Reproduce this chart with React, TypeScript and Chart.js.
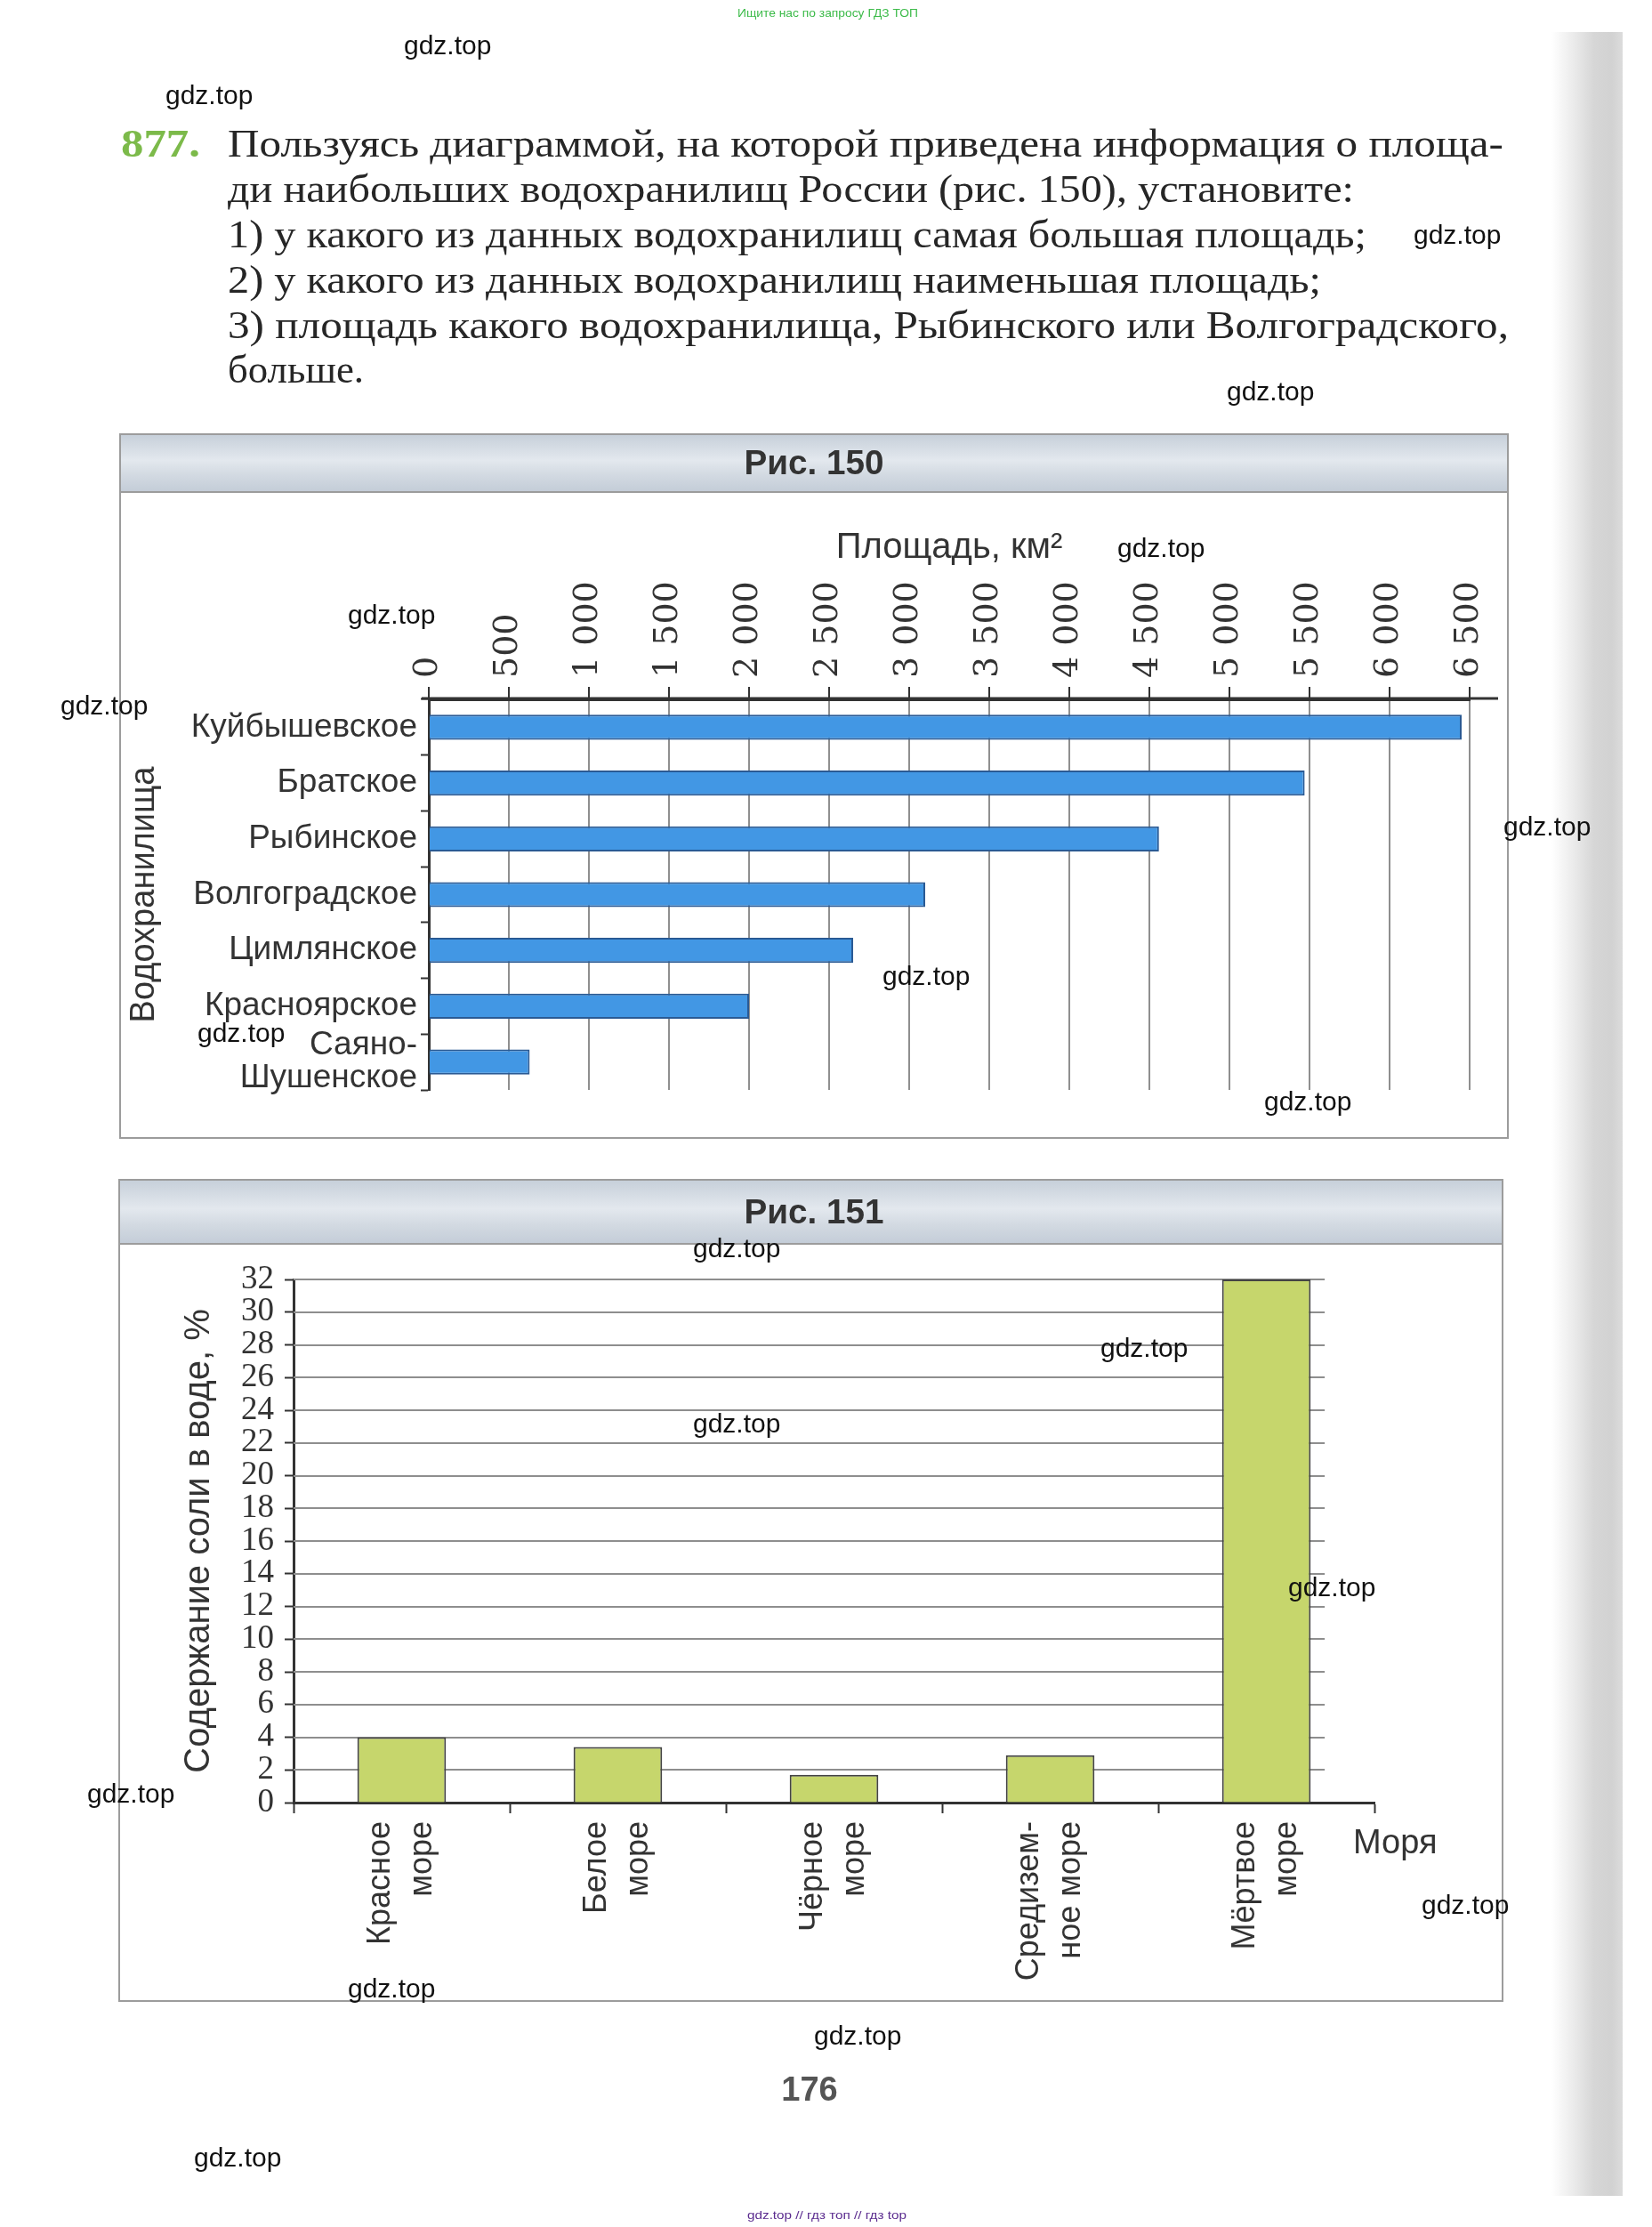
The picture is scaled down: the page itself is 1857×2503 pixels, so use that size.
import React, { useEffect, useRef } from "react";
import { Chart, registerables } from "chart.js";

Chart.register(...registerables);

// ---------- Data: Рис. 150 ----------
const reservoirs: (string | string[])[] = [
  "Куйбышевское",
  "Братское",
  "Рыбинское",
  "Волгоградское",
  "Цимлянское",
  "Красноярское",
  ["Саяно-", "Шушенское"],
];
const reservoirAreas = [6450, 5470, 4560, 3100, 2650, 2000, 630];
const areaTickLabels = [
  "0", "500", "1 000", "1 500", "2 000", "2 500", "3 000",
  "3 500", "4 000", "4 500", "5 000", "5 500", "6 000", "6 500",
];
const areaTitle = "Площадь, км²";
const reservoirTitle = "Водохранилища";

// ---------- Data: Рис. 151 ----------
const seas: string[][] = [
  ["Красное", "море"],
  ["Белое", "море"],
  ["Чёрное", "море"],
  ["Средизем-", "ное море"],
  ["Мёртвое", "море"],
];
const salinity = [4.0, 3.4, 1.7, 2.9, 32];
const salinityTitle = "Содержание соли в воде, %";
const seasTitle = "Моря";

// ---------- Page texts ----------
const problemLines = [
  { text: "Пользуясь диаграммой, на которой приведена информация о площа-", len: 1434, y: 176 },
  { text: "ди наибольших водохранилищ России (рис. 150), установите:", len: 1266, y: 227 },
  { text: "1) у какого из данных водохранилищ самая большая площадь;", len: 1280, y: 278 },
  { text: "2) у какого из данных водохранилищ наименьшая площадь;", len: 1229, y: 329 },
  { text: "3) площадь какого водохранилища, Рыбинского или Волгоградского,", len: 1440, y: 380 },
  { text: "больше.", len: 153, y: 430 },
];
const watermarks: [number, number][] = [
  [454, 53], [186, 109], [1589, 266], [1379, 442], [1256, 618], [391, 693],
  [68, 795], [1690, 931], [992, 1099], [222, 1163], [1421, 1240], [779, 1405],
  [1237, 1517], [779, 1602], [1448, 1786], [98, 2018], [1598, 2143],
  [391, 2237], [915, 2290], [218, 2427],
];

const SANS = "'Liberation Sans', Arial, sans-serif";

// extends the top axis line a little beyond 0 and beyond the last tick, as in the figure
const axisExtendPlugin = {
  id: "axisExtend",
  afterDraw(chart: any) {
    const { ctx, chartArea } = chart;
    ctx.save();
    ctx.strokeStyle = "#333";
    ctx.lineWidth = 3;
    ctx.beginPath();
    ctx.moveTo(chartArea.left - 8, chartArea.top - 1);
    ctx.lineTo(chartArea.right + 32, chartArea.top - 1);
    ctx.stroke();
    ctx.restore();
  },
};

function ReservoirChart() {
  const ref = useRef<HTMLCanvasElement | null>(null);
  useEffect(() => {
    if (!ref.current) return;
    const chart = new Chart(ref.current, {
      type: "bar",
      data: {
        labels: reservoirs as any,
        datasets: [
          {
            data: reservoirAreas,
            backgroundColor: "#4297e4",
            borderColor: "#2a5a94",
            borderWidth: 2,
            barPercentage: 0.45,
            categoryPercentage: 1,
          },
        ],
      },
      plugins: [axisExtendPlugin],
      options: {
        indexAxis: "y",
        animation: false,
        responsive: false,
        maintainAspectRatio: false,
        layout: { padding: { left: 0, right: 44, top: 0, bottom: 55 } },
        plugins: { legend: { display: false }, tooltip: { enabled: false } },
        scales: {
          x: {
            type: "linear",
            position: "top",
            min: 0,
            max: 6500,
            ticks: {
              stepSize: 500,
              autoSkip: false,
              minRotation: 90,
              maxRotation: 90,
              padding: 10,
              labelOffset: 45,
              color: "#333",
              font: { family: "'DejaVu Serif', serif", size: 38 },
              callback: (v: any) => areaTickLabels[Math.round(Number(v) / 500)] ?? "",
            },
            grid: { color: "#8f8f8f", lineWidth: 2, tickLength: 14, tickColor: "#333", tickWidth: 2 },
            border: { display: true, color: "#333", width: 3 },
            title: {
              display: true,
              text: areaTitle,
              color: "#333",
              font: { family: SANS, size: 40 },
              padding: { top: 40, bottom: 0 },
            },
            afterFit: (s: any) => {
              s.height = 234;
            },
          } as any,
          y: {
            type: "category",
            ticks: {
              autoSkip: false,
              color: "#333",
              padding: 4,
              font: { family: SANS, size: 37, lineHeight: 1.0 },
            },
            grid: { drawOnChartArea: false, tickLength: 9, tickColor: "#333", tickWidth: 2, offset: true },
            border: { display: true, color: "#333", width: 3 },
            title: {
              display: true,
              text: reservoirTitle,
              color: "#333",
              font: { family: SANS, size: 38 },
              padding: { top: 6, bottom: 0 },
            },
            afterFit: (s: any) => {
              s.width = 348;
            },
          } as any,
        },
      },
    });
    return () => chart.destroy();
  }, []);
  return (
    <canvas
      ref={ref}
      width={1562}
      height={728}
      style={{ position: "absolute", left: 134, top: 552, width: 1562, height: 728 }}
    />
  );
}

const seaPlugin = {
  id: "seaGridAndTitle",
  beforeDatasetsDraw(chart: any) {
    const { ctx, chartArea, scales } = chart;
    const x = scales.x;
    const y = scales.y;
    const last = seas.length - 1;
    const cat = x.getPixelForValue(1) - x.getPixelForValue(0);
    const right = x.getPixelForValue(last) + cat * 0.27;
    ctx.save();
    ctx.strokeStyle = "#8e8e8e";
    ctx.lineWidth = 2;
    y.ticks.forEach((t: any) => {
      if (t.value === 0) return;
      const py = Math.round(y.getPixelForValue(t.value));
      ctx.beginPath();
      ctx.moveTo(chartArea.left, py);
      ctx.lineTo(right, py);
      ctx.stroke();
    });
    ctx.restore();
  },
  afterDraw(chart: any) {
    const { ctx, chartArea } = chart;
    ctx.save();
    ctx.fillStyle = "#333";
    ctx.font = `38px ${SANS}`;
    ctx.textAlign = "left";
    ctx.textBaseline = "middle";
    ctx.fillText(seasTitle, chartArea.right - 24, chartArea.bottom + 47);
    ctx.restore();
  },
};

function SeaChart() {
  const ref = useRef<HTMLCanvasElement | null>(null);
  useEffect(() => {
    if (!ref.current) return;
    const chart = new Chart(ref.current, {
      type: "bar",
      data: {
        labels: seas as any,
        datasets: [
          {
            data: salinity,
            backgroundColor: "#c6d66c",
            borderColor: "#444",
            borderWidth: 2,
            barPercentage: 0.41,
            categoryPercentage: 1,
          },
        ],
      },
      plugins: [seaPlugin],
      options: {
        animation: false,
        responsive: false,
        maintainAspectRatio: false,
        layout: { padding: { left: 0, right: 145, top: 41, bottom: 0 } },
        plugins: { legend: { display: false }, tooltip: { enabled: false } },
        scales: {
          x: {
            type: "category",
            ticks: {
              autoSkip: false,
              minRotation: 90,
              maxRotation: 90,
              padding: 9,
              labelOffset: -23,
              color: "#333",
              font: { family: SANS, size: 36, lineHeight: 1.28 },
            },
            grid: { drawOnChartArea: false, tickLength: 12, tickColor: "#333", tickWidth: 2, offset: true },
            border: { display: true, color: "#333", width: 3 },
            afterFit: (s: any) => {
              s.height = 224;
            },
          } as any,
          y: {
            type: "linear",
            min: 0,
            max: 32,
            ticks: {
              stepSize: 2,
              autoSkip: false,
              padding: 12,
              color: "#333",
              font: { family: "'Liberation Serif', 'Times New Roman', serif", size: 37, lineHeight: 1.0 },
            },
            grid: { drawOnChartArea: false, tickLength: 10, tickColor: "#333", tickWidth: 2 },
            border: { display: true, color: "#333", width: 3 },
            title: {
              display: true,
              text: salinityTitle,
              color: "#333",
              font: { family: SANS, size: 40 },
              padding: { top: 67, bottom: 0 },
            },
            afterFit: (s: any) => {
              s.width = 197;
            },
          } as any,
        },
      },
    });
    return () => chart.destroy();
  }, []);
  return (
    <canvas
      ref={ref}
      width={1557}
      height={853}
      style={{ position: "absolute", left: 133, top: 1397, width: 1557, height: 853 }}
    />
  );
}

const headerBg = "linear-gradient(to bottom, #c7d0da 0%, #e3e8ee 45%, #d3dae2 70%, #c4cdd8 100%)";

export default function App() {
  return (
    <div
      style={{
        position: "absolute",
        left: 0,
        top: 0,
        width: 1857,
        height: 2503,
        background: "#ffffff",
        overflow: "hidden",
      }}
    >
      {/* page edge shadow */}
      <div
        style={{
          position: "absolute",
          left: 1744,
          top: 36,
          width: 80,
          height: 2432,
          background: "linear-gradient(to right, rgba(230,230,230,0) 0%, #e8e8e8 35%, #d6d6d6 60%, #d2d2d2 85%, #dcdcdc 100%)",
        }}
      />
      {/* box 150 */}
      <div
        style={{
          position: "absolute",
          left: 134,
          top: 487,
          width: 1562,
          height: 793,
          border: "2px solid #9c9c9c",
          boxSizing: "border-box",
          background: "#fff",
        }}
      >
        <div style={{ height: 63, background: headerBg, borderBottom: "2px solid #9c9c9c" }} />
      </div>
      {/* box 151 */}
      <div
        style={{
          position: "absolute",
          left: 133,
          top: 1325,
          width: 1557,
          height: 925,
          border: "2px solid #9c9c9c",
          boxSizing: "border-box",
          background: "#fff",
        }}
      >
        <div style={{ height: 70, background: headerBg, borderBottom: "2px solid #9c9c9c" }} />
      </div>
      <ReservoirChart />
      <SeaChart />
      <svg
        width={1857}
        height={2503}
        style={{ position: "absolute", left: 0, top: 0, pointerEvents: "none" }}
      >
        <text x={829} y={19} fontSize={13} fontFamily={SANS} fill="#3dbb4a" textLength={203} lengthAdjust="spacingAndGlyphs">
          Ищите нас по запросу ГДЗ ТОП
        </text>
        <text x={136} y={176} fontSize={44} fontWeight="bold" fontFamily="'Liberation Serif', serif" fill="#7cba4a" textLength={89} lengthAdjust="spacingAndGlyphs">
          877.
        </text>
        {problemLines.map((l, i) => (
          <text
            key={i}
            x={256}
            y={l.y}
            fontSize={44}
            fontFamily="'Liberation Serif', serif"
            fill="#262626"
            textLength={l.len}
            lengthAdjust="spacingAndGlyphs"
          >
            {l.text}
          </text>
        ))}
        <text x={915} y={533} fontSize={38} fontWeight="bold" fontFamily={SANS} fill="#333" textAnchor="middle" textLength={157} lengthAdjust="spacingAndGlyphs">
          Рис. 150
        </text>
        <text x={915} y={1375} fontSize={38} fontWeight="bold" fontFamily={SANS} fill="#333" textAnchor="middle" textLength={157} lengthAdjust="spacingAndGlyphs">
          Рис. 151
        </text>
        <text x={910} y={2361} fontSize={38} fontWeight="bold" fontFamily={SANS} fill="#555" textAnchor="middle">
          176
        </text>
        {watermarks.map(([x, y], i) => (
          <text key={i} x={x} y={y + 8} fontSize={30} fontFamily={SANS} fill="#111">
            gdz.top
          </text>
        ))}
        <text x={840} y={2494} fontSize={13} fontFamily={SANS} fill="#5b2c8f" textLength={179} lengthAdjust="spacingAndGlyphs">
          gdz.top // гдз топ // гдз top
        </text>
      </svg>
    </div>
  );
}
